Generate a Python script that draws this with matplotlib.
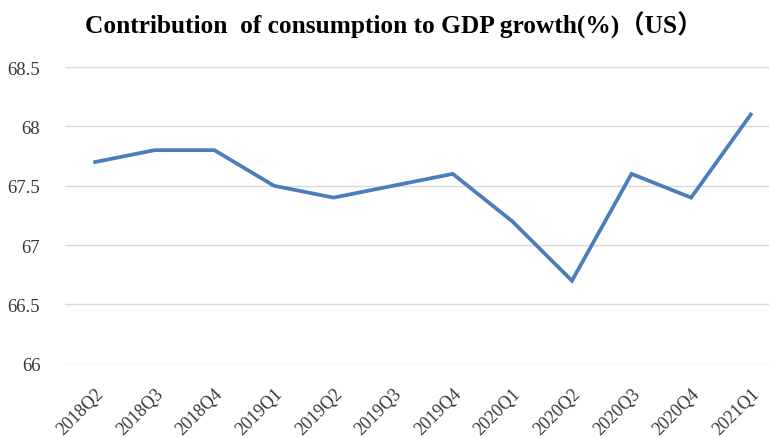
import matplotlib.pyplot as plt

quarters = ['2018Q2', '2018Q3', '2018Q4', '2019Q1', '2019Q2', '2019Q3',
            '2019Q4', '2020Q1', '2020Q2', '2020Q3', '2020Q4', '2021Q1']
contribution = [67.7, 67.8, 67.8, 67.5, 67.4, 67.5, 67.6, 67.2, 66.7, 67.6, 67.4, 68.1]
y_ticks = [66, 66.5, 67, 67.5, 68, 68.5]
y_labels = ['66', '66.5', '67', '67.5', '68', '68.5']

plt.rcParams['font.family'] = ['Liberation Serif', 'Noto Sans CJK SC']

fig = plt.figure(figsize=(7.69, 4.39), dpi=100)
# plot area runs slightly past the right edge of the figure
ax = fig.add_axes([0.085, 0.169, 0.93, 0.676])

x = range(len(quarters))
ax.plot(x, contribution, color='#4A7EBB', linewidth=2.7, zorder=3,
        solid_joinstyle='miter')

ax.set_xlim(-0.5, len(quarters) - 0.5)
ax.set_ylim(66, 68.5)
ax.set_yticks(y_ticks)
ax.set_yticklabels(y_labels, fontsize=13.5, color='#383838')
ax.set_xticks(list(x))
ax.set_xticklabels(quarters, rotation=45, ha='right', rotation_mode='anchor',
                   fontsize=13, color='#383838')
ax.tick_params(length=0)
ax.tick_params(axis='y', pad=18)
ax.tick_params(axis='x', pad=15)

ax.grid(axis='y', color='#D9D9D9', linewidth=1)
for s in ax.spines.values():
    s.set_visible(False)

fig.text(0.512, 0.943, 'Contribution  of consumption to GDP growth(%)（US）',
         ha='center', va='center', fontsize=18.3, fontweight='bold',
         family=['Liberation Serif', 'Noto Sans CJK SC'])

plt.savefig('out.png', dpi=100)
